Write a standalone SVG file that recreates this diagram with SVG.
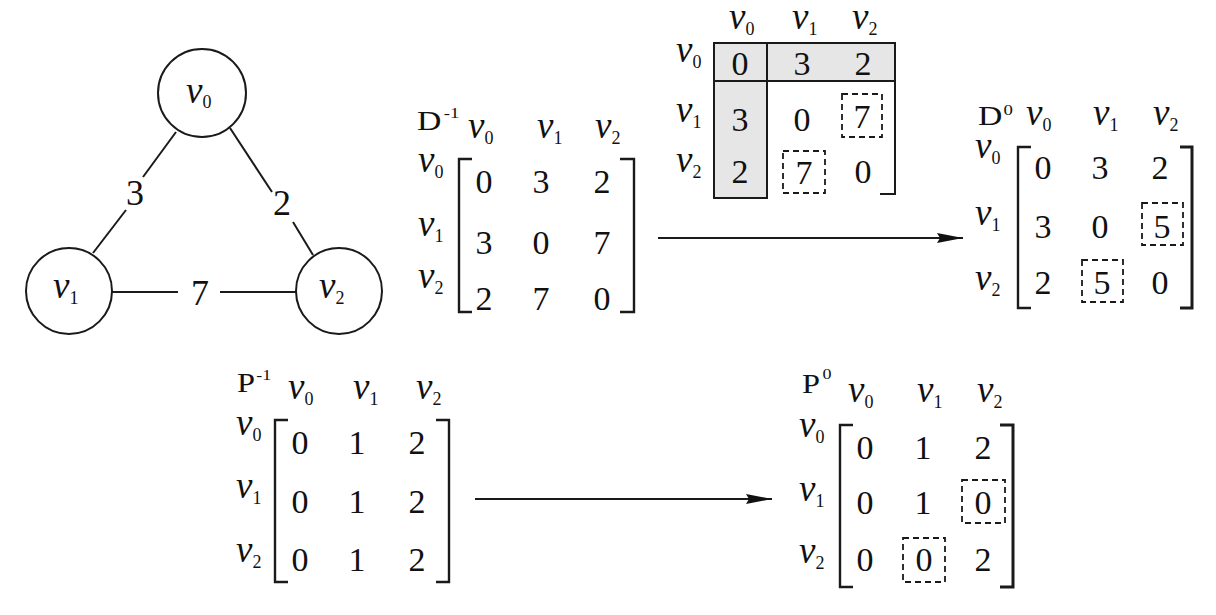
<svg xmlns="http://www.w3.org/2000/svg" width="1216" height="615" viewBox="0 0 1216 615">
<style>
.ln{stroke:#1a1a1a;stroke-width:2;fill:none}
.br{stroke:#1a1a1a;stroke-width:2.4;fill:none}
.ds{stroke:#1a1a1a;stroke-width:1.8;fill:none;stroke-dasharray:6 4}
text{font-family:'Liberation Serif','DejaVu Serif',serif;fill:#111}
.num{font-size:34px;text-anchor:middle}
.e{font-size:36px;text-anchor:middle}
.v{font-style:italic;font-size:37px}
.s{font-style:normal;font-size:18px}
.M{font-size:27px}
.sup{font-size:15px}
.gray{fill:#e6e6e6;stroke:#1a1a1a;stroke-width:2}
</style>
<defs>
<marker id="ah" markerWidth="28" markerHeight="12" refX="26" refY="6" orient="auto" markerUnits="userSpaceOnUse">
<path d="M0,1 L26,6 L0,11 L3,6 Z" fill="#111"/>
</marker>
</defs>

<g id="edges">
<line class="ln" x1="176" y1="132" x2="143" y2="177"/>
<line class="ln" x1="126" y1="210" x2="93" y2="253"/>
<line class="ln" x1="230" y1="128" x2="272" y2="192"/>
<line class="ln" x1="293" y1="222" x2="313" y2="255"/>
<line class="ln" x1="112" y1="292" x2="178" y2="292"/>
<line class="ln" x1="220" y1="292" x2="296" y2="292"/>
<text class="e" x="135" y="205">3</text>
<text class="e" x="282" y="215">2</text>
<text class="e" x="200" y="305">7</text>
</g>

<g id="node-v0">
<circle class="ln" cx="202" cy="93" r="44"/>
<text class="v" x="186" y="103">v<tspan class="s" dy="5">0</tspan></text>
</g>
<g id="node-v1">
<circle class="ln" cx="69" cy="291" r="43"/>
<text class="v" x="53" y="298">v<tspan class="s" dy="6">1</tspan></text>
</g>
<g id="node-v2">
<circle class="ln" cx="339" cy="291" r="43"/>
<text class="v" x="319" y="298">v<tspan class="s" dy="6">2</tspan></text>
</g>

<g id="matrix-D-1">
<text class="M" transform="translate(417,130) scale(1.25,1)">D<tspan class="sup" dx="2" dy="-12">-1</tspan></text>
<text class="v" x="468" y="138">v<tspan class="s" dy="6">0</tspan></text>
<text class="v" x="537" y="138">v<tspan class="s" dy="6">1</tspan></text>
<text class="v" x="595" y="138">v<tspan class="s" dy="6">2</tspan></text>
<text class="v" x="418" y="172">v<tspan class="s" dy="6">0</tspan></text>
<text class="v" x="418" y="236">v<tspan class="s" dy="6">1</tspan></text>
<text class="v" x="418" y="288">v<tspan class="s" dy="6">2</tspan></text>
<path class="br" d="M472,159 H459 V312 H472"/>
<path class="br" d="M620,159 H634 V312 H620"/>
<text class="num" x="484" y="193">0</text><text class="num" x="541" y="193">3</text><text class="num" x="602" y="193">2</text>
<text class="num" x="484" y="254">3</text><text class="num" x="541" y="254">0</text><text class="num" x="602" y="254">7</text>
<text class="num" x="484" y="310">2</text><text class="num" x="541" y="310">7</text><text class="num" x="602" y="310">0</text>
</g>

<g id="table-top">
<rect class="gray" x="714" y="43" width="181" height="38"/>
<rect class="gray" x="714" y="81" width="53" height="117"/>
<line class="ln" x1="767" y1="43" x2="767" y2="81"/>
<path class="ln" d="M895,43 V194 H880"/>
<text class="v" x="729" y="29">v<tspan class="s" dy="6">0</tspan></text>
<text class="v" x="792" y="29">v<tspan class="s" dy="6">1</tspan></text>
<text class="v" x="852" y="29">v<tspan class="s" dy="6">2</tspan></text>
<text class="v" x="676" y="62">v<tspan class="s" dy="6">0</tspan></text>
<text class="v" x="676" y="122">v<tspan class="s" dy="6">1</tspan></text>
<text class="v" x="676" y="172">v<tspan class="s" dy="6">2</tspan></text>
<text class="num" x="740" y="75">0</text><text class="num" x="802" y="75">3</text><text class="num" x="863" y="75">2</text>
<text class="num" x="740" y="131">3</text><text class="num" x="802" y="131">0</text><text class="num" x="862" y="128">7</text>
<text class="num" x="740" y="183">2</text><text class="num" x="804" y="184">7</text><text class="num" x="863" y="183">0</text>
<rect class="ds" x="842" y="94" width="40" height="43"/>
<rect class="ds" x="783" y="151" width="42" height="42"/>
</g>

<g id="matrix-D0">
<text class="M" transform="translate(978,125) scale(1.25,1)">D<tspan class="sup" dx="1" dy="-10">0</tspan></text>
<text class="v" x="1026" y="125">v<tspan class="s" dy="6">0</tspan></text>
<text class="v" x="1093" y="125">v<tspan class="s" dy="6">1</tspan></text>
<text class="v" x="1153" y="125">v<tspan class="s" dy="6">2</tspan></text>
<text class="v" x="975" y="158">v<tspan class="s" dy="6">0</tspan></text>
<text class="v" x="975" y="225">v<tspan class="s" dy="6">1</tspan></text>
<text class="v" x="975" y="290">v<tspan class="s" dy="6">2</tspan></text>
<path class="br" d="M1031,147 H1018 V308 H1031"/>
<path class="br" style="stroke-width:3" d="M1180,147 H1192 V308 H1180"/>
<text class="num" x="1043" y="179">0</text><text class="num" x="1100" y="179">3</text><text class="num" x="1160" y="179">2</text>
<text class="num" x="1043" y="238">3</text><text class="num" x="1100" y="238">0</text><text class="num" x="1162" y="238">5</text>
<text class="num" x="1043" y="294">2</text><text class="num" x="1102" y="294">5</text><text class="num" x="1160" y="294">0</text>
<rect class="ds" x="1142" y="203" width="41" height="42"/>
<rect class="ds" x="1082" y="260" width="41" height="42"/>
</g>

<g id="matrix-P-1">
<text class="M" transform="translate(237,392) scale(1.2,1)">P<tspan class="sup" dx="1" dy="-12">-1</tspan></text>
<text class="v" x="288" y="399">v<tspan class="s" dy="6">0</tspan></text>
<text class="v" x="353" y="399">v<tspan class="s" dy="6">1</tspan></text>
<text class="v" x="416" y="399">v<tspan class="s" dy="6">2</tspan></text>
<text class="v" x="236" y="435">v<tspan class="s" dy="6">0</tspan></text>
<text class="v" x="236" y="498">v<tspan class="s" dy="6">1</tspan></text>
<text class="v" x="236" y="562">v<tspan class="s" dy="6">2</tspan></text>
<path class="br" d="M288,420 H275 V582 H288"/>
<path class="br" d="M436,420 H449 V582 H436"/>
<text class="num" x="300" y="454">0</text><text class="num" x="357" y="454">1</text><text class="num" x="417" y="454">2</text>
<text class="num" x="300" y="513">0</text><text class="num" x="357" y="513">1</text><text class="num" x="417" y="513">2</text>
<text class="num" x="300" y="571">0</text><text class="num" x="357" y="571">1</text><text class="num" x="417" y="571">2</text>
</g>

<g id="matrix-P0">
<text class="M" transform="translate(802,393) scale(1.2,1)">P<tspan class="sup" dx="2" dy="-14">0</tspan></text>
<text class="v" x="848" y="402">v<tspan class="s" dy="6">0</tspan></text>
<text class="v" x="917" y="402">v<tspan class="s" dy="6">1</tspan></text>
<text class="v" x="977" y="402">v<tspan class="s" dy="6">2</tspan></text>
<text class="v" x="799" y="437">v<tspan class="s" dy="6">0</tspan></text>
<text class="v" x="799" y="501">v<tspan class="s" dy="6">1</tspan></text>
<text class="v" x="799" y="563">v<tspan class="s" dy="6">2</tspan></text>
<path class="br" d="M853,425 H840 V587 H853"/>
<path class="br" style="stroke-width:3" d="M1000,425 H1013 V587 H1000"/>
<text class="num" x="865" y="459">0</text><text class="num" x="923" y="459">1</text><text class="num" x="983" y="459">2</text>
<text class="num" x="865" y="514">0</text><text class="num" x="923" y="514">1</text><text class="num" x="983" y="514">0</text>
<text class="num" x="865" y="571">0</text><text class="num" x="924" y="571">0</text><text class="num" x="983" y="571">2</text>
<rect class="ds" x="962" y="480" width="43" height="43"/>
<rect class="ds" x="903" y="538" width="42" height="44"/>
</g>

<g id="connectors">
<line class="ln" x1="658" y1="238" x2="963" y2="238" marker-end="url(#ah)"/>
<line class="ln" x1="475" y1="499" x2="772" y2="499" marker-end="url(#ah)"/>
</g>
</svg>
